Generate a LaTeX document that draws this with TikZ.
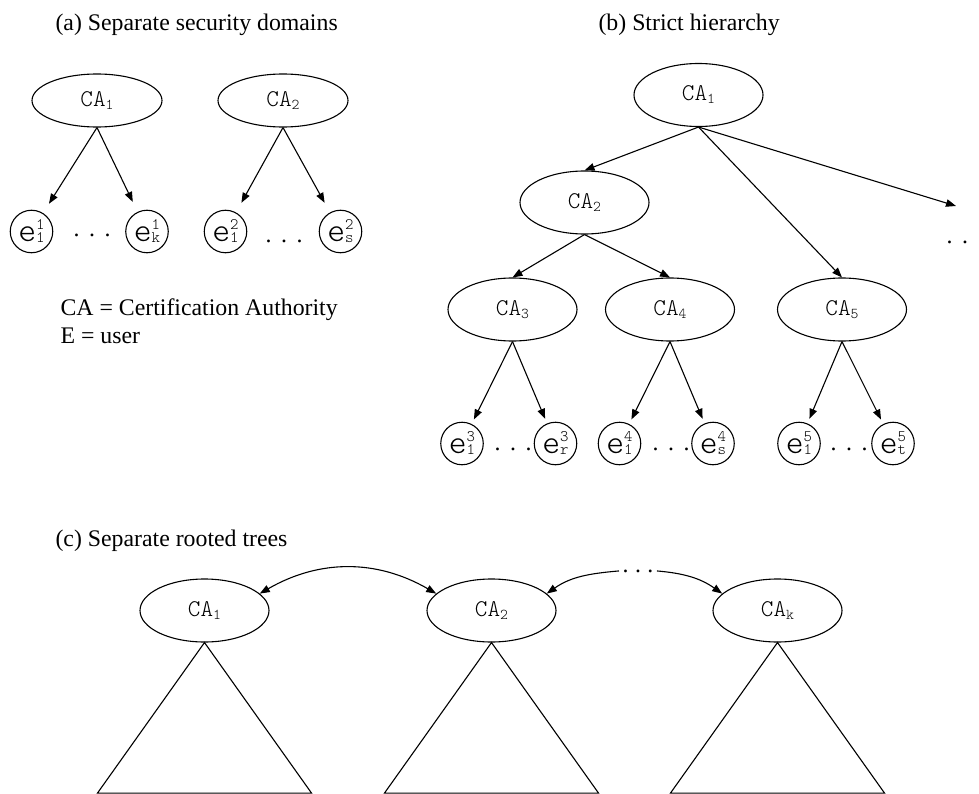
\documentclass[tikz,border=0pt]{standalone}
\usepackage{fontspec}
\setmainfont{Liberation Serif}
\newfontfamily\labelmono{lmmonolt10-regular.otf}
\usetikzlibrary{shapes.geometric,arrows.meta}

% text helpers
\newcommand\capfont{\fontsize{23.8}{28}\selectfont}
\newcommand\calabel[1]{{\labelmono\fontsize{24}{24}\selectfont CA\raisebox{-3pt}{\fontsize{15}{15}\selectfont #1}}}
\newcommand\userlabel[2]{{\labelmono\fontsize{34}{34}\selectfont e\makebox[0pt][l]{\raisebox{12pt}{\fontsize{16}{16}\selectfont #1}}\raisebox{-1pt}{\fontsize{16}{16}\selectfont #2}}}
\newcommand\dotrow[1]{.\kern#1.\kern#1.}

\begin{document}
\begin{tikzpicture}[x=1pt,y=1pt,
  line width=1.1pt,
  ca/.style={ellipse,draw,inner sep=0pt,minimum width=129pt,minimum height=63pt},
  caflat/.style={ca,minimum width=130pt,minimum height=53pt},
  user/.style={circle,draw,inner sep=0pt,minimum size=42.5pt},
  link/.style={-{Triangle[length=10pt,width=7.5pt]}},
  twoway/.style={{Triangle[length=10pt,width=7.5pt]}-{Triangle[length=10pt,width=7.5pt]}},
  caption/.style={anchor=base west,inner sep=0pt,font=\capfont},
  gap/.style={anchor=base west,inner sep=0pt,font=\capfont},
]
\useasboundingbox (0,0) rectangle (979,-794);

% ---------- (a) separate security domains ----------
\node[caption] (capa) at (55,-31) {(a) Separate security domains};
\node[caflat] (a1) at (97,-100.5) {\calabel{1}};
\node[caflat] (a2) at (283,-100.5) {\calabel{2}};
\node[user] (u11) at (31.5,-231.5) {\userlabel{1}{1}};
\node[user] (u1k) at (147,-231.5) {\userlabel{1}{k}};
\node[user] (u21) at (225.5,-231.5) {\userlabel{2}{1}};
\node[user] (u2s) at (340.5,-231.5) {\userlabel{2}{s}};
\node[gap] (adots1) at (73,-236.5) {\dotrow{9.6pt}};
\node[gap] (adots2) at (265,-242.5) {\dotrow{9.6pt}};
\draw[link,shorten >=11pt] (a1.south) -- (u11);
\draw[link,shorten >=11pt] (a1.south) -- (u1k);
\draw[link,shorten >=11pt] (a2.south) -- (u21);
\draw[link,shorten >=11pt] (a2.south) -- (u2s);
\node[caption] (keyca) at (60,-315) {CA = Certification Authority};
\node[caption] (keye) at (60,-343) {E = user};

% ---------- (b) strict hierarchy ----------
\node[caption] (capb) at (598,-31) {(b) Strict hierarchy};
\node[ca] (b1) at (698.5,-95) {\calabel{1}};
\node[ca] (b2) at (584.5,-202.5) {\calabel{2}};
\node[ca] (b3) at (512.5,-309.5) {\calabel{3}};
\node[ca] (b4) at (670,-309.5) {\calabel{4}};
\node[ca] (b5) at (842,-309.5) {\calabel{5}};
\coordinate (bmore) at (956,-206);
\node[gap] (bdots) at (946,-243.5) {\dotrow{9.6pt}};
\node[user] (u31) at (462,-443.5) {\userlabel{3}{1}};
\node[user] (u3r) at (555.5,-443.5) {\userlabel{3}{r}};
\node[user] (u41) at (619.5,-443.5) {\userlabel{4}{1}};
\node[user] (u4s) at (713,-443.5) {\userlabel{4}{s}};
\node[user] (u51) at (799,-443.5) {\userlabel{5}{1}};
\node[user] (u5t) at (893,-443.5) {\userlabel{5}{t}};
\node[gap] (bdots3) at (494,-450.5) {\dotrow{9.6pt}};
\node[gap] (bdots4) at (652,-450.5) {\dotrow{9.6pt}};
\node[gap] (bdots5) at (830,-450.5) {\dotrow{9.6pt}};
\draw[link] (b1.south) -- (b2.north);
\draw[link] (b1.south) -- (b5.north);
\draw[link] (b1.south) -- (bmore);
\draw[link] (b2.south) -- (b3.north);
\draw[link] (b2.south) -- (b4.north);
\draw[link,shorten >=5pt] (b3.south) -- (u31);
\draw[link,shorten >=5pt] (b3.south) -- (u3r);
\draw[link,shorten >=5pt] (b4.south) -- (u41);
\draw[link,shorten >=5pt] (b4.south) -- (u4s);
\draw[link,shorten >=5pt] (b5.south) -- (u51);
\draw[link,shorten >=5pt] (b5.south) -- (u5t);

% ---------- (c) separate rooted trees ----------
\node[caption] (capc) at (55,-546) {(c) Separate rooted trees};
\node[ca] (c1) at (204.5,-610.5) {\calabel{1}};
\node[ca] (c2) at (491.5,-610.5) {\calabel{2}};
\node[ca] (ck) at (777.5,-610.5) {\calabel{k}};
\foreach \n in {c1,c2,ck}
  \draw[line join=miter] (\n.south) -- ++(-107,-150.5) -- ++(214,0) -- cycle;
\draw[twoway] (c1.17) to[out=30,in=150] (c2.163);
\node[gap,inner sep=3pt] (cdots) at (619,-572) {\dotrow{6.5pt}};
\draw[link] (cdots.west) to[out=185,in=35] (c2.17);
\draw[link] (cdots.east) to[out=-5,in=145] (ck.163);
\end{tikzpicture}
\end{document}
